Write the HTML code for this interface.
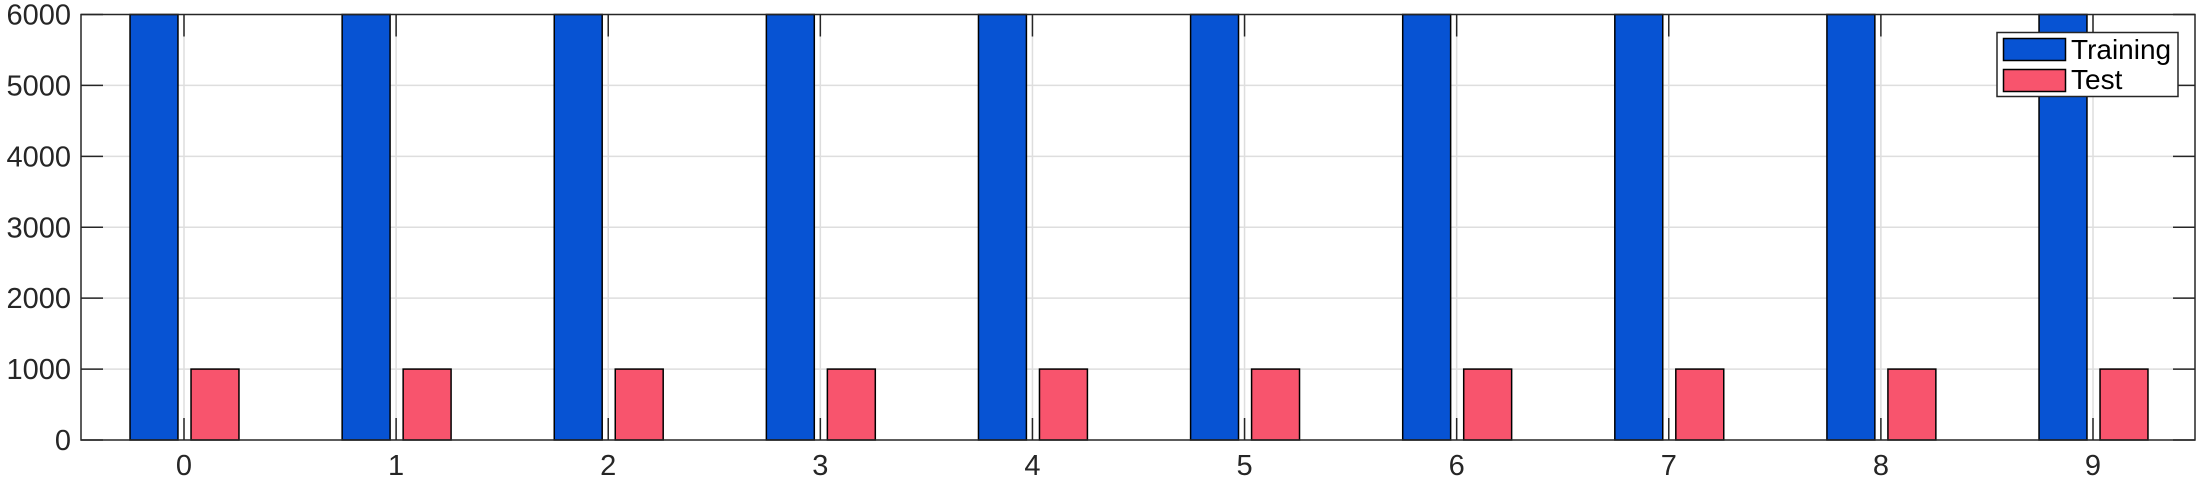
<!DOCTYPE html>
<html><head><meta charset="utf-8"><style>
html,body{margin:0;padding:0;background:#fff;}
svg{display:block;font-family:"Liberation Sans",Arial,sans-serif;}
</style></head><body>
<svg id="chart" width="2198" height="479">
<g id="grid"></g>
<g id="bars"></g>
<g id="axes"></g>
<g id="legend">
  <rect x="1997" y="32.5" width="181" height="64" fill="#fff" stroke="#262626" stroke-width="1.5"/>
  <rect x="2003.5" y="38.5" width="62" height="22" fill="#0753d3" stroke="#000" stroke-width="1.5"/>
  <text x="2071" y="59" font-size="28" fill="#000">Training</text>
  <rect x="2003.5" y="69.5" width="62" height="22" fill="#f8546d" stroke="#000" stroke-width="1.5"/>
  <text x="2071" y="89" font-size="28" fill="#000">Test</text>
</g>
</svg>
<script>
const categories = ["0","1","2","3","4","5","6","7","8","9"];
const trainingValues = [6000,6000,6000,6000,6000,6000,6000,6000,6000,6000];
const testValues = [1000,1000,1000,1000,1000,1000,1000,1000,1000,1000];
const yTicks = [0,1000,2000,3000,4000,5000,6000];

const NS="http://www.w3.org/2000/svg";
const L=81,R=2195,T=14.5,B=440;
const yMax=6000;
const x0=184, step=(2093-184)/9;
function xs(i){return x0+i*step;}
function ys(v){return B-(Math.min(v,yMax)/yMax)*(B-T);}
const barW=0.226*step;
function mk(tag,attrs,parent){const e=document.createElementNS(NS,tag);for(const k in attrs)e.setAttribute(k,attrs[k]);parent.appendChild(e);return e;}
const grid=document.getElementById('grid'),bars=document.getElementById('bars'),axes=document.getElementById('axes');
yTicks.forEach(v=>{
  if(v>0&&v<yMax){const g=mk('line',{x1:L,x2:R,y1:ys(v),y2:ys(v),stroke:'#dedede','stroke-width':1.5},grid);
  
  }
});
categories.forEach((c,i)=>{
  const g=mk('line',{x1:xs(i),x2:xs(i),y1:T,y2:B,stroke:'#dedede','stroke-width':1.5},grid);
  
  
  const yt=ys(trainingValues[i]);
  const b1=mk('rect',{x:xs(i)-30-barW/2,y:yt,width:barW,height:B-yt,fill:'#0753d3',stroke:'#000','stroke-width':1.5},bars);
  
  
  const ye=ys(testValues[i]);
  const b2=mk('rect',{x:xs(i)+31-barW/2,y:ye,width:barW,height:B-ye,fill:'#f8546d',stroke:'#000','stroke-width':1.5},bars);
  
  
  mk('line',{x1:xs(i),x2:xs(i),y1:B,y2:B-22,stroke:'#262626','stroke-width':1.5},axes);
  mk('line',{x1:xs(i),x2:xs(i),y1:T,y2:T+22,stroke:'#262626','stroke-width':1.5},axes);
  const t=mk('text',{x:xs(i),y:475,'font-size':29,'text-anchor':'middle',fill:'#262626'},axes);
  t.textContent=c;
  
  
});
yTicks.forEach(v=>{
  mk('line',{x1:L,x2:L+22,y1:ys(v),y2:ys(v),stroke:'#262626','stroke-width':1.5},axes);
  mk('line',{x1:R,x2:R-22,y1:ys(v),y2:ys(v),stroke:'#262626','stroke-width':1.5},axes);
  const t=mk('text',{x:71,y:ys(v)+10,'font-size':29,'text-anchor':'end',fill:'#262626'},axes);
  t.textContent=v;
  
  
});
const box=mk('rect',{x:L,y:T,width:R-L,height:B-T,fill:'none',stroke:'#262626','stroke-width':1.5},axes);


</script>
</body></html>
